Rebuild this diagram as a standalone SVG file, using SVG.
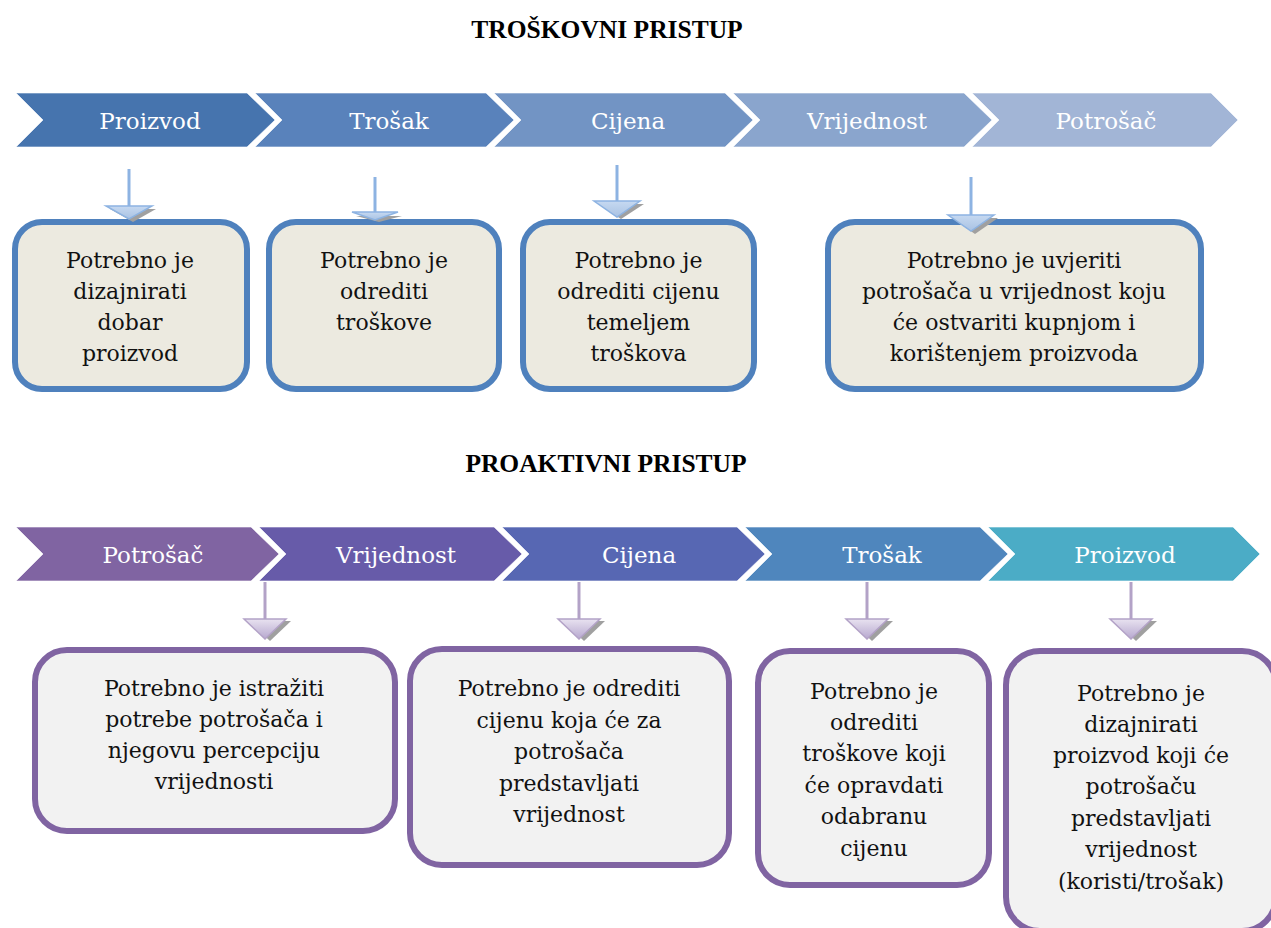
<svg xmlns="http://www.w3.org/2000/svg" width="1271" height="928" viewBox="0 0 1271 928">
<style>
.title{font-family:"Liberation Serif","Times New Roman",serif;font-weight:bold;font-size:25.5px;fill:#000;text-anchor:middle}
.lbl{font-family:"DejaVu Serif","Liberation Serif",serif;font-size:23px;fill:#fff;text-anchor:middle}
.txt{font-family:"DejaVu Serif","Liberation Serif",serif;font-size:22px;fill:#111;text-anchor:middle}
.chev{stroke:#fff;stroke-width:1;stroke-opacity:0.6}
.boxT{fill:#ECEAE0;stroke:#4F81BD;stroke-width:6}
.boxB{fill:#F2F2F2;stroke:#8064A2;stroke-width:6}
.lnT{stroke:#8DB3E2;stroke-width:3}
.lnB{stroke:#B3A2C7;stroke-width:3}
.shd{fill:#A0A0A0}
.hdT{fill:url(#gT);stroke:#8DB3E2;stroke-width:1.5}
.hdB{fill:url(#gB);stroke:#B3A2C7;stroke-width:1.5}
</style>
<defs>
<linearGradient id="gT" x1="0" y1="0" x2="0" y2="1"><stop offset="0" stop-color="#C6D9F1"/><stop offset="1" stop-color="#A9C2E3"/></linearGradient>
<linearGradient id="gB" x1="0" y1="0" x2="0" y2="1"><stop offset="0" stop-color="#E8E2F0"/><stop offset="1" stop-color="#B7A8CF"/></linearGradient>
</defs>
<rect width="1271" height="928" fill="#fff"/>

<text class="title" x="607" y="38">TROŠKOVNI PRISTUP</text>
<text class="title" x="606" y="472">PROAKTIVNI PRISTUP</text>

<!-- top chevrons -->
<g id="t-proizvod"><polygon class="chev" fill="#4674AE" points="16,93 247,93 275,120 247,147 16,147 43,120"/><text class="lbl" x="150" y="129">Proizvod</text></g>
<g id="t-trosak"><polygon class="chev" fill="#5982BB" points="255,93 486,93 514,120 486,147 255,147 282,120"/><text class="lbl" x="389" y="129">Trošak</text></g>
<g id="t-cijena"><polygon class="chev" fill="#7294C4" points="494,93 725,93 753,120 725,147 494,147 521,120"/><text class="lbl" x="628" y="129">Cijena</text></g>
<g id="t-vrijednost"><polygon class="chev" fill="#8AA5CD" points="733,93 964,93 992,120 964,147 733,147 760,120"/><text class="lbl" x="867" y="129">Vrijednost</text></g>
<g id="t-potrosac"><polygon class="chev" fill="#A2B5D6" points="972,93 1211,93 1238,120 1211,147 972,147 999,120"/><text class="lbl" x="1106" y="129">Potrošač</text></g>

<!-- top boxes -->
<g id="tb1"><rect class="boxT" x="15" y="222" width="232" height="167" rx="27"/>
<text class="txt" x="130" y="268">Potrebno je</text><text class="txt" x="130" y="299">dizajnirati</text><text class="txt" x="130" y="330">dobar</text><text class="txt" x="130" y="361">proizvod</text></g>
<g id="tb2"><rect class="boxT" x="269" y="222" width="230" height="167" rx="27"/>
<text class="txt" x="384" y="268">Potrebno je</text><text class="txt" x="384" y="299">odrediti</text><text class="txt" x="384" y="330">troškove</text></g>
<g id="tb3"><rect class="boxT" x="523" y="222" width="231" height="167" rx="27"/>
<text class="txt" x="638.5" y="268">Potrebno je</text><text class="txt" x="638.5" y="299">odrediti cijenu</text><text class="txt" x="638.5" y="330">temeljem</text><text class="txt" x="638.5" y="361">troškova</text></g>
<g id="tb4"><rect class="boxT" x="828" y="222" width="373" height="167" rx="27"/>
<text class="txt" x="1014" y="268">Potrebno je uvjeriti</text><text class="txt" x="1014" y="299">potrošača u vrijednost koju</text><text class="txt" x="1014" y="330">će ostvariti kupnjom i</text><text class="txt" x="1014" y="361">korištenjem proizvoda</text></g>

<!-- bottom chevrons -->
<g id="b-potrosac"><polygon class="chev" fill="#8064A2" points="16,527 251,527 279,554 251,581 16,581 43,554"/><text class="lbl" x="153" y="563">Potrošač</text></g>
<g id="b-vrijednost"><polygon class="chev" fill="#675BA9" points="259,527 494,527 522,554 494,581 259,581 286,554"/><text class="lbl" x="396" y="563">Vrijednost</text></g>
<g id="b-cijena"><polygon class="chev" fill="#5767B3" points="502,527 737,527 765,554 737,581 502,581 529,554"/><text class="lbl" x="639" y="563">Cijena</text></g>
<g id="b-trosak"><polygon class="chev" fill="#4F86BD" points="745,527 980,527 1008,554 980,581 745,581 772,554"/><text class="lbl" x="882" y="563">Trošak</text></g>
<g id="b-proizvod"><polygon class="chev" fill="#4BACC6" points="988,527 1233,527 1260,554 1233,581 988,581 1015,554"/><text class="lbl" x="1125" y="563">Proizvod</text></g>

<!-- bottom boxes -->
<g id="bb1"><rect class="boxB" x="35" y="650" width="360" height="181" rx="32"/>
<text class="txt" x="214" y="696">Potrebno je istražiti</text><text class="txt" x="214" y="727">potrebe potrošača i</text><text class="txt" x="214" y="758">njegovu percepciju</text><text class="txt" x="214" y="789">vrijednosti</text></g>
<g id="bb2"><rect class="boxB" x="410" y="649" width="319" height="216" rx="32"/>
<text class="txt" x="569" y="696">Potrebno je odrediti</text><text class="txt" x="569" y="727.5">cijenu koja će za</text><text class="txt" x="569" y="759">potrošača</text><text class="txt" x="569" y="790.5">predstavljati</text><text class="txt" x="569" y="822">vrijednost</text></g>
<g id="bb3"><rect class="boxB" x="758" y="651" width="231" height="234" rx="32"/>
<text class="txt" x="874" y="699">Potrebno je</text><text class="txt" x="874" y="730">odrediti</text><text class="txt" x="874" y="761">troškove koji</text><text class="txt" x="874" y="793">će opravdati</text><text class="txt" x="874" y="824">odabranu</text><text class="txt" x="874" y="856">cijenu</text></g>
<g id="bb4"><rect class="boxB" x="1006" y="651" width="270" height="280" rx="34"/>
<text class="txt" x="1141" y="701">Potrebno je</text><text class="txt" x="1141" y="732">dizajnirati</text><text class="txt" x="1141" y="763">proizvod koji će</text><text class="txt" x="1141" y="794">potrošaču</text><text class="txt" x="1141" y="826">predstavljati</text><text class="txt" x="1141" y="857">vrijednost</text><text class="txt" x="1141" y="889">(koristi/trošak)</text></g>

<!-- connectors -->
<g id="connectors">
<g><line class="lnT" x1="129" y1="169" x2="129" y2="207"/><polygon class="shd" points="110,209 156,209 133,222"/><polygon class="hdT" points="106,206 152,206 129,219"/></g>
<g><line class="lnT" x1="375" y1="177" x2="375" y2="213"/><polygon class="shd" points="356,216 402,216 379,222"/><polygon class="hdT" points="352,212 398,212 375,220"/></g>
<g><line class="lnT" x1="617" y1="165" x2="617" y2="201"/><polygon class="shd" points="598,204 644,204 621,219"/><polygon class="hdT" points="594,201 640,201 617,217"/></g>
<g><line class="lnT" x1="971" y1="177" x2="971" y2="215"/><polygon class="shd" points="952,218 998,218 975,234"/><polygon class="hdT" points="948,215 994,215 971,231"/></g>
<g><line class="lnB" x1="265" y1="582" x2="265" y2="619"/><polygon class="shd" points="249,621 291,621 270,641"/><polygon class="hdB" points="244,619 286,619 265,639"/></g>
<g><line class="lnB" x1="579" y1="582" x2="579" y2="619"/><polygon class="shd" points="563,621 605,621 584,641"/><polygon class="hdB" points="558,619 600,619 579,639"/></g>
<g><line class="lnB" x1="867" y1="582" x2="867" y2="619"/><polygon class="shd" points="851,621 893,621 872,641"/><polygon class="hdB" points="846,619 888,619 867,639"/></g>
<g><line class="lnB" x1="1131" y1="582" x2="1131" y2="619"/><polygon class="shd" points="1115,621 1157,621 1136,641"/><polygon class="hdB" points="1110,619 1152,619 1131,639"/></g>
</g>
</svg>
